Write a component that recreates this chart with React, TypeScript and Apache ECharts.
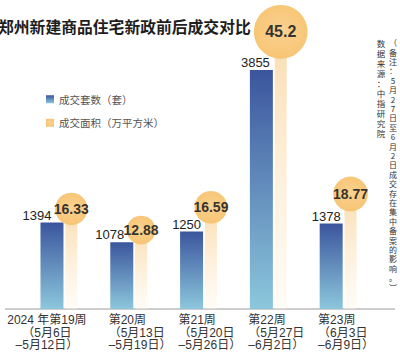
import { useEffect, useRef } from 'react';
import * as echarts from 'echarts';

const titleText = '郑州新建商品住宅新政前后成交对比';
const weekLabels = [
  '2024 年第19周\n（5月6日\n–5月12日）',
  '第20周\n（5月13日\n–5月19日）',
  '第21周\n（5月20日\n–5月26日）',
  '第22周\n（5月27日\n–6月2日）',
  '第23周\n（6月3日\n–6月9日）',
];
const dealUnits = [1394, 1078, 1250, 3855, 1378];
const dealArea = [16.33, 12.88, 16.59, 45.2, 18.77];
const seriesNames = ['成交套数（套）', '成交面积（万平方米）'];
const noteText = '（备注：5月27日至6月2日成交存在集中备案的影响。︶';
const sourceText = '数据来源：中指研究院';

const unitLabelDx = [-15, -12, -5, -6, -5];

export default function App() {
  const ref = useRef<HTMLDivElement>(null);
  useEffect(() => {
    if (!ref.current) return;
    const chart = echarts.init(ref.current, undefined, { renderer: 'svg' });
    const font = '"Liberation Sans", "Noto Sans CJK SC", sans-serif';
    const cjk = '"Noto Sans CJK SC", sans-serif';
    const maxArea = Math.max(...dealArea);
    chart.setOption({
      animation: false,
      backgroundColor: '#ffffff',
      textStyle: { fontFamily: font },
      title: {
        text: titleText,
        left: -2,
        top: 19,
        padding: 0,
        textStyle: { fontSize: 15.8, fontWeight: 'bold', color: '#1e1e1e', fontFamily: cjk },
      },
      legend: {
        orient: 'vertical',
        left: 41,
        top: 89,
        itemWidth: 8,
        itemHeight: 8,
        itemGap: 13,
        icon: 'rect',
        data: seriesNames,
        textStyle: { fontSize: 10.5, color: '#555', fontFamily: cjk },
      },
      grid: { left: 24, right: 27, top: 30, bottom: 49, outerBoundsMode: 'none' },
      xAxis: {
        type: 'category',
        data: weekLabels.map((w, i) =>
          i === 0 ? { value: w, textStyle: { padding: [0, 0, 0, -24] } } : w
        ),
        axisLine: { show: false },
        axisTick: { show: false },
        axisLabel: {
          interval: 0,
          align: 'left',
          padding: [0, 0, 0, -20],
          margin: 5,
          fontSize: 12,
          lineHeight: 12.5,
          color: '#333',
        },
      },
      yAxis: [
        { type: 'value', min: 0, max: 4500, show: false, splitLine: { show: false } },
        { type: 'value', min: 0, max: 45.5, show: false, splitLine: { show: false } },
      ],
      series: [
        {
          name: seriesNames[0],
          type: 'bar',
          yAxisIndex: 0,
          barWidth: 23,
          barGap: '8%',
          data: dealUnits.map((v, i) => ({
            value: v,
            label: { offset: [unitLabelDx[i], 0] },
          })),
          itemStyle: {
            color: new echarts.graphic.LinearGradient(0, 0, 0, 1, [
              { offset: 0, color: '#3b559d' },
              { offset: 1, color: '#8cc7dc' },
            ]),
          },
          label: {
            show: true,
            position: 'top',
            distance: 1,
            fontSize: 13,
            color: '#222',
          },
          z: 2,
        },
        {
          name: 'pillar',
          type: 'bar',
          yAxisIndex: 1,
          barWidth: 12,
          data: dealArea,
          itemStyle: {
            color: new echarts.graphic.LinearGradient(0, 0, 0, 1, [
              { offset: 0, color: 'rgba(249,214,160,0.85)' },
              { offset: 1, color: 'rgba(255,244,228,0.35)' },
            ]),
          },
          silent: true,
          z: 1,
        },
        {
          name: seriesNames[1],
          type: 'scatter',
          yAxisIndex: 1,
          data: dealArea.map((v) => ({
            value: v,
            label: { fontSize: v === maxArea ? 16 : 14 },
          })),
          symbol: 'circle',
          symbolSize: (v: number) => 8 * Math.sqrt(v),
          symbolOffset: [12.4, 0],
          itemStyle: {
            color: new echarts.graphic.RadialGradient(0.5, 0.5, 0.6, [
              { offset: 0, color: '#fbd08d' },
              { offset: 1, color: '#f6c069' },
            ]),
            opacity: 0.95,
          },
          label: {
            show: true,
            position: 'inside',
            fontWeight: 'bold',
            color: '#2a2a2a',
            formatter: (p: any) => String(p.value),
          },
          z: 3,
        },
      ],
      graphic: [
        {
          type: 'line',
          shape: { x1: 5, y1: 309, x2: 395, y2: 309 },
          style: { stroke: '#9a9a9a', lineWidth: 1 },
          silent: true,
        },
        {
          type: 'text',
          x: 393,
          y: 38,
          style: {
            text: Array.from(noteText).join('\n'),
            fontSize: 8,
            lineHeight: 9.4,
            align: 'center',
            verticalAlign: 'top',
            fill: '#333',
            fontFamily: cjk,
          },
        },
        {
          type: 'text',
          x: 381,
          y: 38,
          style: {
            text: Array.from(sourceText).join('\n'),
            fontSize: 8.5,
            lineHeight: 10,
            align: 'center',
            verticalAlign: 'top',
            fill: '#333',
            fontFamily: cjk,
          },
        },
      ],
    });
    return () => chart.dispose();
  }, []);
  return (
    <div
      ref={ref}
      style={{ position: 'fixed', left: 0, top: 0, width: 400, height: 358 }}
    />
  );
}
